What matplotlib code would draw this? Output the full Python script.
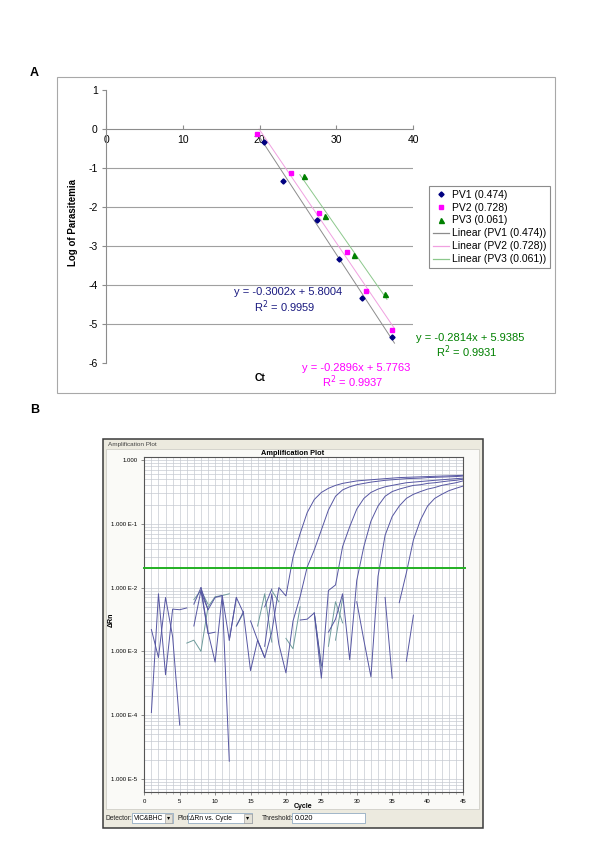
import numpy as np
import matplotlib

matplotlib.use("Agg")
import matplotlib.pyplot as plt
from matplotlib.patches import Rectangle
from matplotlib.lines import Line2D

plt.rcParams["font.family"] = ["Liberation Sans", "DejaVu Sans"]
plt.rcParams["axes.unicode_minus"] = False

W, H = 600, 867
nan = np.nan

# --- Panel A: standard curves (Ct vs log parasitemia) -----------------------
pv1_ct = [20.63, 23.09, 27.45, 30.40, 33.36, 37.29]
pv1_log = [-0.324, -1.324, -2.324, -3.324, -4.324, -5.324]
pv2_ct = [19.71, 24.06, 27.75, 31.36, 33.88, 37.26]
pv2_log = [-0.138, -1.138, -2.138, -3.138, -4.138, -5.138]
pv3_ct = [25.76, 28.53, 32.35, 36.31]
pv3_log = [-1.215, -2.215, -3.215, -4.215]
series_names = ["PV1 (0.474)", "PV2 (0.728)", "PV3 (0.061)"]
fit_slope = [-0.3002, -0.2896, -0.2814]
fit_icpt = [5.8004, 5.7763, 5.9385]
fit_r2 = ["0.9959", "0.9937", "0.9931"]

# --- Panel B: amplification plot (delta Rn per cycle, nan = not shown) -------
cycles = list(range(1, 46))
amp1 = [1.1e-4, 8e-3, 4.3e-4, 4.6e-3, 4.5e-3, 4.8e-3, nan, 1e-2, 2e-3, 6.8e-4,
        7.5e-3, 1.9e-5, nan, 4e-3, 5e-4, 1.5e-3, 8e-4, 2e-3, 1e-2, 7.4e-3,
        0.03, 0.07, 0.15, 0.24, 0.31, 0.36, 0.40, 0.43, 0.45, 0.47,
        0.48, 0.49, 0.50, 0.51, 0.52, 0.53, 0.535, 0.54, 0.545, 0.55,
        0.555, 0.56, 0.565, 0.57, 0.575]
amp2 = [2.2e-3, 8e-4, 7e-3, 1.7e-3, 7e-5, nan, 5.5e-3, 1e-2, 4.5e-3, 7e-3,
        7.5e-3, 1.5e-3, 7e-3, 4e-3, nan, nan, 1.2e-3, 8e-3, 1.3e-3, 4.6e-4,
        3e-3, 7.2e-3, 0.021, 0.039, 0.08, 0.165, 0.27, 0.34, 0.38, 0.41,
        0.43, 0.45, 0.465, 0.48, 0.49, 0.50, 0.51, 0.515, 0.52, 0.53,
        0.535, 0.54, 0.545, 0.55, 0.56]
amp3 = [nan, nan, nan, nan, nan, nan, nan, 8.5e-3, 4.5e-3, nan,
        nan, 1.5e-3, 7e-3, nan, nan, nan, 5e-3, 9.5e-3, nan, nan,
        nan, nan, nan, 4e-3, 3.8e-4, 9e-3, 0.011, 0.044, 0.09, 0.17,
        0.25, 0.31, 0.35, 0.38, 0.40, 0.42, 0.44, 0.45, 0.46, 0.47,
        0.48, 0.49, 0.50, 0.51, 0.52]
amp4 = [nan, nan, nan, nan, nan, nan, 2.5e-3, 9e-3, 1.9e-3, 2e-3,
        nan, nan, 2.5e-3, 4.2e-3, nan, nan, nan, nan, nan, nan,
        nan, nan, nan, nan, nan, 2e-3, 3.2e-3, 8e-3, 7.4e-4, 0.013,
        0.044, 0.11, 0.19, 0.27, 0.32, 0.35, 0.375, 0.40, 0.41, 0.43,
        0.44, 0.455, 0.47, 0.48, 0.50]
amp5 = [nan, nan, nan, nan, nan, nan, nan, nan, nan, nan,
        nan, nan, nan, nan, 3e-3, 1.5e-3, 8e-4, nan, nan, nan,
        nan, 3.1e-3, 3.2e-3, 4e-3, 6e-4, nan, nan, nan, nan, 6e-3,
        1.5e-3, 4e-4, 0.015, 0.066, 0.13, 0.19, 0.25, 0.29, 0.32, 0.35,
        0.37, 0.40, 0.42, 0.44, 0.47]
amp6 = [nan, nan, nan, nan, nan, nan, nan, nan, nan, nan,
        nan, nan, nan, nan, nan, nan, nan, nan, nan, nan,
        nan, nan, nan, nan, nan, nan, nan, nan, nan, nan,
        nan, nan, nan, nan, nan, 5.8e-3, 0.017, 0.056, 0.115, 0.19,
        0.25, 0.29, 0.33, 0.36, 0.39]
ntc = [nan, nan, nan, nan, nan, nan, nan, nan, nan, nan,
       nan, nan, nan, nan, nan, nan, nan, nan, nan, nan,
       nan, nan, nan, nan, nan, nan, nan, nan, nan, nan,
       nan, nan, nan, 7e-3, 3.8e-4, nan, 7e-4, 3.7e-3, nan, nan,
       nan, nan, nan, nan, nan]
teal1 = [nan, nan, nan, nan, nan, 1.35e-3, 1.5e-3, 1e-3, 5e-3, 7.2e-3,
         7.5e-3, 8e-3, nan, nan, nan, 2.5e-3, 8e-3, 1.4e-3, nan, 1.6e-3,
         1.1e-3, 5e-3, nan, 4e-3, 5.7e-4, nan, 1.5e-3, 6.8e-3, nan, nan,
         nan, nan, nan, nan, nan, nan, nan, nan, nan, nan,
         nan, nan, nan, nan, nan]
teal2 = [nan, nan, nan, nan, nan, nan, 6.5e-3, 9e-3, 5.5e-3, nan,
         nan, nan, 2.5e-3, 4e-3, nan, nan, nan, 9e-3, 6e-3, nan,
         nan, nan, nan, nan, nan, 1.2e-3, 6e-3, 2.8e-3, nan, nan,
         nan, nan, nan, nan, nan, nan, nan, nan, nan, nan,
         nan, nan, nan, nan, nan]
navy_traces = [amp1, amp2, amp3, amp4, amp5, amp6, ntc]
teal_traces = [teal1, teal2]
threshold = 0.020
y_tick_vals = [1e-5, 1e-4, 1e-3, 1e-2, 1e-1, 1.0]
y_tick_text = ["1.000 E-5", "1.000 E-4", "1.000 E-3", "1.000 E-2",
               "1.000 E-1", "1.000"]


def fx(px):
    return px / W


def fy(py):
    return 1 - py / H


fig = plt.figure(figsize=(W / 100, H / 100), dpi=100)


def frect(x0, y0, x1, y1, **kw):
    # rectangle in pixel coords (top-left origin), drawn under the axes
    fig.patches.append(Rectangle((fx(x0), fy(y1)), fx(x1) - fx(x0),
                                 fy(y0) - fy(y1), transform=fig.transFigure,
                                 zorder=-5, **kw))


# ---------------------------------------------------------------------------
# Panel A
# ---------------------------------------------------------------------------
fig.text(fx(30), fy(73), "A", fontsize=9, fontweight="bold", va="center")
frect(57, 77, 555, 393, fill=False, edgecolor="#A8A8A8", lw=0.8)

axA = fig.add_axes([fx(106), fy(363.3), (413 - 106) / W, (363.3 - 90) / H])
axA.set_xlim(0, 40)
axA.set_ylim(-6, 1)
axA.patch.set_alpha(0)
for s in ["top", "right"]:
    axA.spines[s].set_visible(False)
axA.spines["bottom"].set_position(("data", 0))
for s in ["left", "bottom"]:
    axA.spines[s].set_color("#8C8C8C")
    axA.spines[s].set_linewidth(0.8)
axA.set_xticks([0, 10, 20, 30, 40])
axA.set_yticks(range(-6, 2))
axA.tick_params(axis="x", direction="in", length=3, pad=4, labelsize=7.5,
                color="#8C8C8C")
axA.tick_params(axis="y", direction="out", length=3, pad=3, labelsize=7.5,
                color="#8C8C8C")
axA.hlines([-1, -2, -3, -4, -5], 0, 40, color="#A0A0A0", lw=0.8, zorder=0)

colors = ["#000080", "#FF00FF", "#008000"]
line_cols = ["#8C8C8C", "#F0A0E0", "#8CC88C"]
markers = ["D", "s", "^"]
msizes = [2.6, 3.2, 3.6]
data = [(pv1_ct, pv1_log), (pv2_ct, pv2_log), (pv3_ct, pv3_log)]
for i, (ct, lg) in enumerate(data):
    x0 = min(ct) - 0.5
    x0 = max(x0, -fit_icpt[i] / fit_slope[i])
    xs = np.array([x0, max(ct) + 0.3])
    axA.plot(xs, fit_slope[i] * xs + fit_icpt[i], color=line_cols[i], lw=0.7,
             zorder=2)
    axA.plot(ct, lg, ls="none", marker=markers[i], ms=msizes[i],
             color=colors[i], zorder=3)

fig.text(fx(73), fy(223), "Log of Parasitemia", rotation=90, fontsize=7,
         fontweight="bold", ha="center", va="center")
fig.text(fx(260), fy(378), "Ct", fontsize=7.5, fontweight="bold",
         ha="center", va="center")

eq_pos = [(288, 292, 307), (356, 368, 382), (470, 338, 352)]
eq_cols = ["#1A1A80", "#FF00FF", "#008000"]
for i, (cx, y1, y2) in enumerate(eq_pos):
    fig.text(fx(cx), fy(y1), f"y = {fit_slope[i]:.4f}x + {fit_icpt[i]:.4f}",
             fontsize=8, color=eq_cols[i], ha="center", va="center")
    fig.text(fx(cx - 3), fy(y2), f"R$^2$ = {fit_r2[i]}", fontsize=8,
             color=eq_cols[i], ha="center", va="center")

handles = []
for i in range(3):
    handles.append(Line2D([], [], ls="none", marker=markers[i], ms=msizes[i],
                          color=colors[i]))
for i in range(3):
    handles.append(Line2D([], [], color=line_cols[i], lw=0.9))
labels = series_names + [f"Linear ({n})" for n in series_names]
leg = fig.legend(handles, labels, loc="upper left",
                 bbox_to_anchor=(fx(429), fy(186)), borderaxespad=0,
                 fontsize=7.5, handlelength=1.6, handletextpad=0.25,
                 borderpad=0.35, labelspacing=0.28, fancybox=False,
                 edgecolor="#8C8C8C", framealpha=1)
leg.get_frame().set_linewidth(0.8)

# ---------------------------------------------------------------------------
# Panel B
# ---------------------------------------------------------------------------
fig.text(fx(30), fy(410), "B", fontsize=9, fontweight="bold", va="center")

frect(103, 439, 483, 828, facecolor="#ECEADF", edgecolor="#3A3A3A", lw=1.1)
frect(106, 449, 479, 809, facecolor="#FAFAF7", edgecolor="#C8C8C0", lw=0.5)
fig.text(fx(108), fy(444.5), "Amplification Plot", fontsize=4.6,
         color="#444444", va="center")

axB = fig.add_axes([fx(144.3), fy(792), (463 - 144.3) / W, (792 - 457) / H])
axB.set_yscale("log")
axB.set_xlim(0, 45)
axB.set_ylim(10 ** -5.204, 10 ** 0.047)
axB.set_facecolor("white")
for c in range(1, 45):
    axB.axvline(c, color="#C6CAD2", lw=0.5, zorder=0)
for dec in range(-6, 1):
    for m in range(1, 10):
        v = m * 10.0 ** dec
        if 10 ** -5.204 < v < 10 ** 0.047:
            axB.axhline(v, color="#C6CAD2", lw=0.5, zorder=0)

for tr in navy_traces:
    axB.plot(cycles, tr, color="#5656A2", lw=0.7, zorder=3)
for tr in teal_traces:
    axB.plot(cycles, tr, color="#6F9C9C", lw=0.7, zorder=2)
axB.plot([0, 45.3], [threshold, threshold], color="#22B022", lw=1.4,
         zorder=4, clip_on=False)

axB.set_xticks(range(0, 46, 5))
axB.set_xticks(range(0, 46), minor=True)
axB.set_yticks(y_tick_vals)
axB.set_yticklabels(y_tick_text)
axB.yaxis.set_minor_locator(matplotlib.ticker.NullLocator())
axB.tick_params(axis="both", which="major", labelsize=4.3, length=2.5,
                width=0.5, color="#606060", pad=2.5)
axB.tick_params(axis="x", which="minor", length=1.5, width=0.4,
                color="#808080")
for s in axB.spines.values():
    s.set_color("#555555")
    s.set_linewidth(0.8)

fig.text(fx(293), fy(454), "Amplification Plot", fontsize=5.3,
         fontweight="bold", ha="center", va="center")
fig.text(fx(111), fy(620), "\u0394Rn", rotation=90, fontsize=5,
         fontweight="bold", ha="center", va="center")
fig.text(fx(303), fy(806), "Cycle", fontsize=5, fontweight="bold",
         ha="center", va="center")

# toolbar widgets
ty = 818
fig.text(fx(105), fy(ty), "Detector:", fontsize=4.8, va="center", color="#222222")
frect(132, 813, 173, 823, facecolor="white", edgecolor="#7F9DB9", lw=0.5)
fig.text(fx(133.5), fy(ty), "VIC&BHC", fontsize=4.8, va="center")
frect(165, 814, 172.5, 822.5, facecolor="#E4E2D8", edgecolor="#909090", lw=0.4)
fig.text(fx(168.7), fy(ty), "\u25BE", fontsize=4.5, ha="center", va="center",
         family="DejaVu Sans")
fig.text(fx(177), fy(ty), "Plot:", fontsize=4.8, va="center", color="#222222")
frect(188, 813, 252, 823, facecolor="white", edgecolor="#7F9DB9", lw=0.5)
fig.text(fx(189.5), fy(ty), "\u0394Rn vs. Cycle", fontsize=4.8, va="center")
frect(244, 814, 251.5, 822.5, facecolor="#E4E2D8", edgecolor="#909090", lw=0.4)
fig.text(fx(247.7), fy(ty), "\u25BE", fontsize=4.5, ha="center", va="center",
         family="DejaVu Sans")
fig.text(fx(262), fy(ty), "Threshold:", fontsize=4.8, va="center", color="#222222")
frect(292, 813, 365, 823, facecolor="white", edgecolor="#7F9DB9", lw=0.5)
fig.text(fx(294.5), fy(ty), "0.020", fontsize=5.3, va="center")

fig.savefig("out.png", dpi=100)
